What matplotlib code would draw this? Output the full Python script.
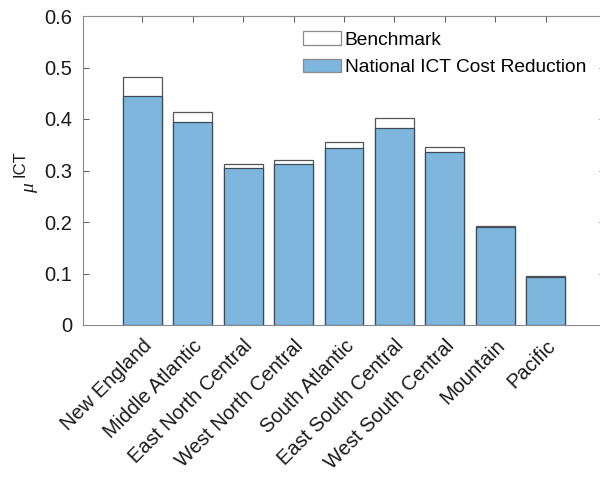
import matplotlib
matplotlib.use("Agg")
import matplotlib.pyplot as plt
import numpy as np

regions = ["New England", "Middle Atlantic", "East North Central", "West North Central",
           "South Atlantic", "East South Central", "West South Central", "Mountain", "Pacific"]
benchmark = [0.482, 0.414, 0.312, 0.320, 0.355, 0.401, 0.346, 0.193, 0.0945]
national_ict = [0.445, 0.395, 0.304, 0.312, 0.343, 0.383, 0.335, 0.190, 0.0926]
yticks = [0, 0.1, 0.2, 0.3, 0.4, 0.5, 0.6]
ytick_labels = ["0", "0.1", "0.2", "0.3", "0.4", "0.5", "0.6"]

plt.rcParams['font.family'] = ['Liberation Sans', 'DejaVu Sans']
plt.rcParams['mathtext.fontset'] = 'custom'
plt.rcParams['mathtext.rm'] = 'Liberation Sans'
plt.rcParams['mathtext.it'] = 'Liberation Serif:italic'

W, H = 600, 479
fig = plt.figure(figsize=(W/100, H/100), dpi=100)
ax = fig.add_axes([83.3/W, 1-325/H, (604.7-83.3)/W, (325-16)/H])

x = np.arange(1, len(regions)+1)
w = 0.77
ax.bar(x, benchmark, width=w, color='white', edgecolor='#555555', linewidth=0.9,
       label='Benchmark', zorder=2)
ax.bar(x, national_ict, width=w, color='#7EB6DE', edgecolor='#3d4c58', linewidth=0.9,
       label='National ICT Cost Reduction', zorder=3)

ax.set_xlim(-0.17, 10.17)
ax.set_ylim(0, 0.6)
ax.set_yticks(yticks)
ax.set_yticklabels(ytick_labels, fontsize=14.5)
ax.set_xticks(x)
ax.set_xticklabels(regions, rotation=45, ha='right', va='top', rotation_mode='anchor',
                   fontsize=14.5)
ax.tick_params(axis='both', direction='in', length=4, width=0.6, color='#404040',
               top=True, right=True, labelcolor='#1a1a1a')
ax.tick_params(axis='x', pad=8)
ax.tick_params(axis='y', pad=8)
for s in ax.spines.values():
    s.set_color('#8a8a8a')
    s.set_linewidth(0.8)

# y-axis label: mu with a large upright "ICT" superscript (MATLAB TeX style)
fig.text(34/W, 1-193/H, r'$\mu$', rotation=90, rotation_mode='anchor',
         ha='left', va='baseline', fontsize=14, color='#1a1a1a')
fig.text(25/W, 1-177/H, 'ICT', rotation=90, rotation_mode='anchor',
         ha='left', va='baseline', fontsize=12, color='#1a1a1a')

leg = ax.legend(loc='upper left', bbox_to_anchor=(303/W, 1-31/H),
                bbox_transform=fig.transFigure, frameon=False, fontsize=13.8,
                handlelength=1.98, handleheight=0.73, handletextpad=0.2,
                labelspacing=0.52, borderaxespad=0, borderpad=0)
for p in leg.get_patches():
    p.set_edgecolor('#888888')

fig.savefig('out.png', dpi=100)
